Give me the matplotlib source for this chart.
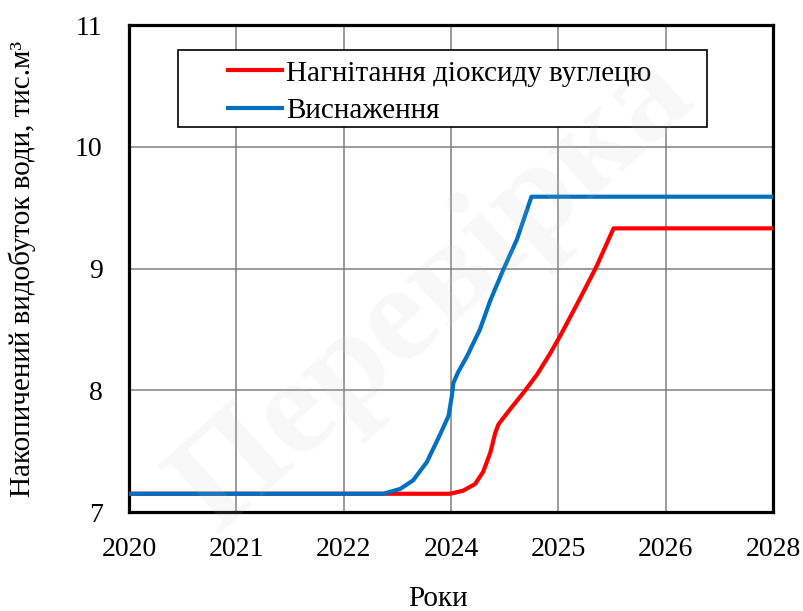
import numpy as np
import matplotlib
matplotlib.use('Agg')
import matplotlib.pyplot as plt
from matplotlib.patches import Rectangle

plt.rcParams['font.family'] = ['Liberation Serif', 'DejaVu Serif']

# Cumulative water production, thousand m3 (axis spans 2020..2028 in 6 equal steps)
years_co2 = [2020.0, 2023.99, 2024.15, 2024.30, 2024.40, 2024.49, 2024.55, 2024.59,
             2024.73, 2024.90, 2025.07, 2025.23, 2025.36, 2025.48, 2025.60, 2025.81,
             2026.02, 2028.0]
water_co2 = [7.15, 7.15, 7.175, 7.23, 7.33, 7.49, 7.65, 7.72,
             7.84, 7.98, 8.13, 8.30, 8.45, 8.60, 8.75, 9.02,
             9.33, 9.33]

years_depl = [2020.0, 2023.16, 2023.37, 2023.53, 2023.70, 2023.86, 2023.97, 2024.01,
              2024.03, 2024.09, 2024.20, 2024.36, 2024.49, 2024.65, 2024.82,
              2025.00, 2028.0]
water_depl = [7.15, 7.15, 7.19, 7.26, 7.41, 7.63, 7.79, 7.95,
              8.06, 8.15, 8.28, 8.50, 8.74, 8.99, 9.24,
              9.59, 9.59]

label_co2 = 'Нагнітання діоксиду вуглецю'
label_depl = 'Виснаження'

x_ticks = np.linspace(2020, 2028, 7)
x_ticklabels = [str(int(t)) for t in x_ticks]
y_ticks = [7, 8, 9, 10, 11]

fig = plt.figure(figsize=(8.04, 6.11), dpi=100)
ax = fig.add_axes([0.1604, 0.162, 0.801, 0.797])

ax.plot(years_co2, water_co2, color='#FF0000', lw=3, label=label_co2,
        solid_joinstyle='round', zorder=3)
ax.plot(years_depl, water_depl, color='#0070C0', lw=3, label=label_depl,
        solid_joinstyle='round', zorder=4)

ax.set_xlim(2020, 2028)
ax.set_ylim(7, 11)
ax.set_xticks(x_ticks)
ax.set_xticklabels(x_ticklabels)
ax.set_yticks(y_ticks)
ax.tick_params(axis='both', length=0, labelsize=20)
ax.tick_params(axis='x', pad=18)
ax.tick_params(axis='y', pad=19)

ax.grid(True, color='#808080', lw=1.1)
ax.set_axisbelow(True)
for sp in ax.spines.values():
    sp.set_linewidth(2.3)
    sp.set_color('black')

ax.set_xlabel('Роки', fontsize=21)
ax.xaxis.set_label_coords(0.48, -0.152)
ax.set_ylabel('Накопичений видобуток води, тис.м³', fontsize=21)
ax.yaxis.set_label_coords(-0.166, 0.5)
ax.yaxis.label.set_va('center')

# legend box with wide side margins
ax.add_patch(Rectangle((0.0761, 0.7906), 0.8214, 0.158, transform=ax.transAxes,
                       facecolor='white', edgecolor='black', lw=1.2, zorder=5))
leg = ax.legend(loc='upper left', bbox_to_anchor=(0.1537, 0.928), fontsize=21,
                frameon=False, handlelength=1.85, handletextpad=0.15,
                labelspacing=0.37, borderpad=0, borderaxespad=0)
leg.set_zorder(6)

# faint diagonal watermark
fig.text(0.54, 0.52, 'Перевірка', fontsize=100, fontweight='bold',
         color='#c8c8c8', alpha=0.12, rotation=42, ha='center', va='center',
         zorder=10)

fig.savefig('out.png', dpi=100)
